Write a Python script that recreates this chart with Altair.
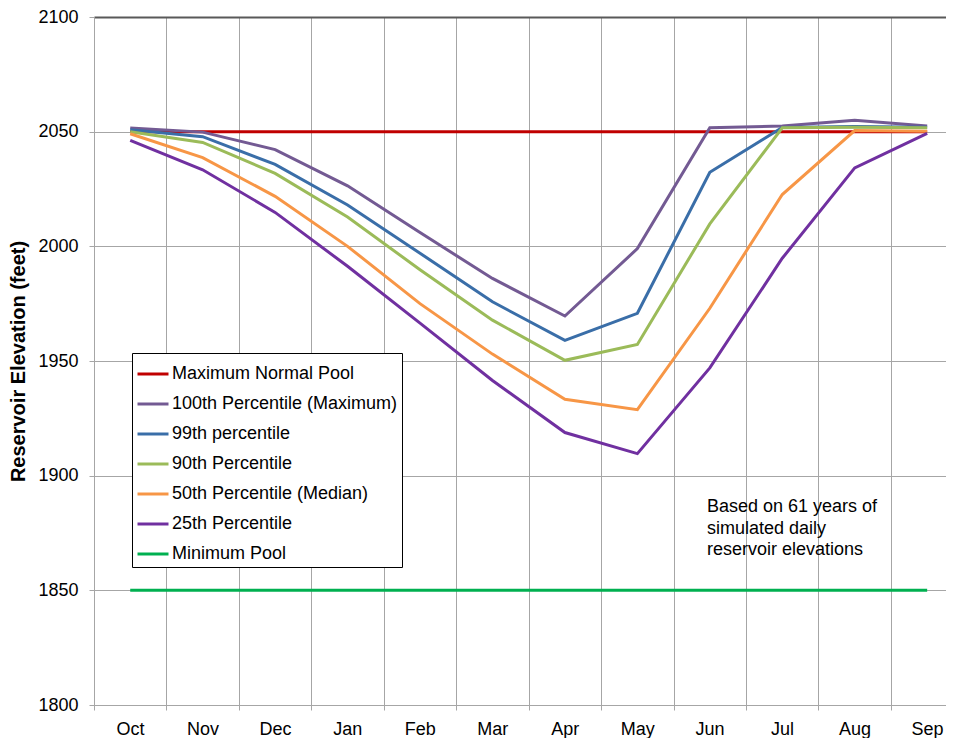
import altair as alt
import pandas as pd

months = ["Oct", "Nov", "Dec", "Jan", "Feb", "Mar", "Apr", "May", "Jun", "Jul", "Aug", "Sep"]

max_normal_pool = [2050, 2050, 2050, 2050, 2050, 2050, 2050, 2050, 2050, 2050, 2050, 2050]
p100 = [2051.6, 2049.8, 2042.2, 2026.4, 2006.0, 1986.0, 1969.6, 1999.0, 2051.7, 2052.5, 2055.0, 2052.5]
p99 = [2050.8, 2047.8, 2035.7, 2018.0, 1997.0, 1975.8, 1959.0, 1970.8, 2032.3, 2051.8, 2052.2, 2051.9]
p90 = [2050.0, 2045.3, 2031.8, 2012.8, 1989.8, 1967.8, 1950.3, 1957.2, 2009.8, 2051.7, 2051.9, 2051.7]
p50 = [2049.1, 2038.7, 2021.8, 2000.0, 1975.0, 1953.0, 1933.3, 1928.8, 1973.0, 2022.6, 2050.5, 2050.2]
p25 = [2046.2, 2033.4, 2014.8, 1991.3, 1966.5, 1941.5, 1918.8, 1909.6, 1947.0, 1994.8, 2034.2, 2049.3]
minimum_pool = [1850, 1850, 1850, 1850, 1850, 1850, 1850, 1850, 1850, 1850, 1850, 1850]

series_names = [
    "Maximum Normal Pool",
    "100th Percentile (Maximum)",
    "99th percentile",
    "90th Percentile",
    "50th Percentile (Median)",
    "25th Percentile",
    "Minimum Pool",
]
series_values = [max_normal_pool, p100, p99, p90, p50, p25, minimum_pool]
series_colors = ["#C00000", "#735A93", "#3A6EA8", "#9BBB59", "#F79646", "#7030A0", "#00B050"]

y_ticks = [1800, 1850, 1900, 1950, 2000, 2050, 2100]

note_text = "Based on 61 years of\nsimulated daily\nreservoir elevations"
note_x = 7.96
note_y = 1884

rows = []
for s_i, (name, vals) in enumerate(zip(series_names, series_values)):
    for m_i, v in enumerate(vals):
        rows.append({"series": name, "order": s_i, "m": m_i, "month": months[m_i], "value": v})
df = pd.DataFrame(rows)

FONT = "Liberation Sans"
GRID = "#A6A6A6"
month_lookup = "[" + ",".join('"%s"' % m for m in months) + "]"

x_scale = alt.Scale(domain=[-0.5, 11.26], nice=False, zero=False)
y_scale = alt.Scale(domain=[1800, 2100], nice=False, zero=False)

lines = alt.Chart(df).mark_line(strokeWidth=3).encode(
    x=alt.X(
        "m:Q",
        scale=x_scale,
        axis=alt.Axis(
            title=None,
            values=[v - 0.5 for v in range(12)],
            labelExpr=month_lookup + "[datum.value + 0.5]",
            labelOffset=36,
            labelPadding=10,
            labelFontSize=18,
            labelFont=FONT,
            labelColor="#000000",
            tickSize=5,
            tickColor=GRID,
            domainColor=GRID,
            gridColor=GRID,
            grid=True,
            labelFlush=False,
            labelOverlap=False,
        ),
    ),
    y=alt.Y(
        "value:Q",
        scale=y_scale,
        axis=alt.Axis(
            title="Reservoir Elevation (feet)",
            titleFont=FONT,
            titleFontSize=20,
            titleFontWeight="bold",
            titleColor="#000000",
            titlePadding=9,
            values=y_ticks,
            format="d",
            labelFontSize=18,
            labelFont=FONT,
            labelColor="#000000",
            labelPadding=11,
            tickSize=5,
            tickColor=GRID,
            domainColor=GRID,
            gridColor={"condition": {"test": "datum.value == 2100", "value": "#595959"}, "value": GRID},
            gridWidth={"condition": {"test": "datum.value == 2100", "value": 2}, "value": 1},
            labelFlush=False,
        ),
    ),
    color=alt.Color(
        "series:N",
        scale=alt.Scale(domain=series_names, range=series_colors),
        legend=alt.Legend(
            title=None,
            orient="none",
            legendX=38,
            legendY=336,
            direction="vertical",
            symbolType="stroke",
            symbolStrokeWidth=3,
            symbolSize=961,
            labelFont=FONT,
            labelFontSize=18,
            labelColor="#000000",
            labelOffset=2,
            rowPadding=4,
            padding=4,
            strokeColor="#000000",
            fillColor="#FFFFFF",
            labelLimit=400,
        ),
    ),
    order=alt.Order("order:Q"),
    detail="series:N",
)

note_df = pd.DataFrame({"x": [note_x], "y": [note_y], "text": [note_text]})
note = alt.Chart(note_df).mark_text(
    align="left", baseline="alphabetic", fontSize=18, font=FONT, lineBreak="\n", lineHeight=21.5, color="#000000"
).encode(x=alt.X("x:Q", scale=x_scale), y=alt.Y("y:Q", scale=y_scale), text="text:N")

chart = (
    alt.layer(lines, note)
    .properties(width=852, height=688, padding={"left": 0, "top": 0, "right": 0, "bottom": 0})
    .configure_view(stroke=None)
    .configure(background="#FFFFFF")
)

chart.save("out.html", embed_options={"renderer": "svg", "actions": False})
